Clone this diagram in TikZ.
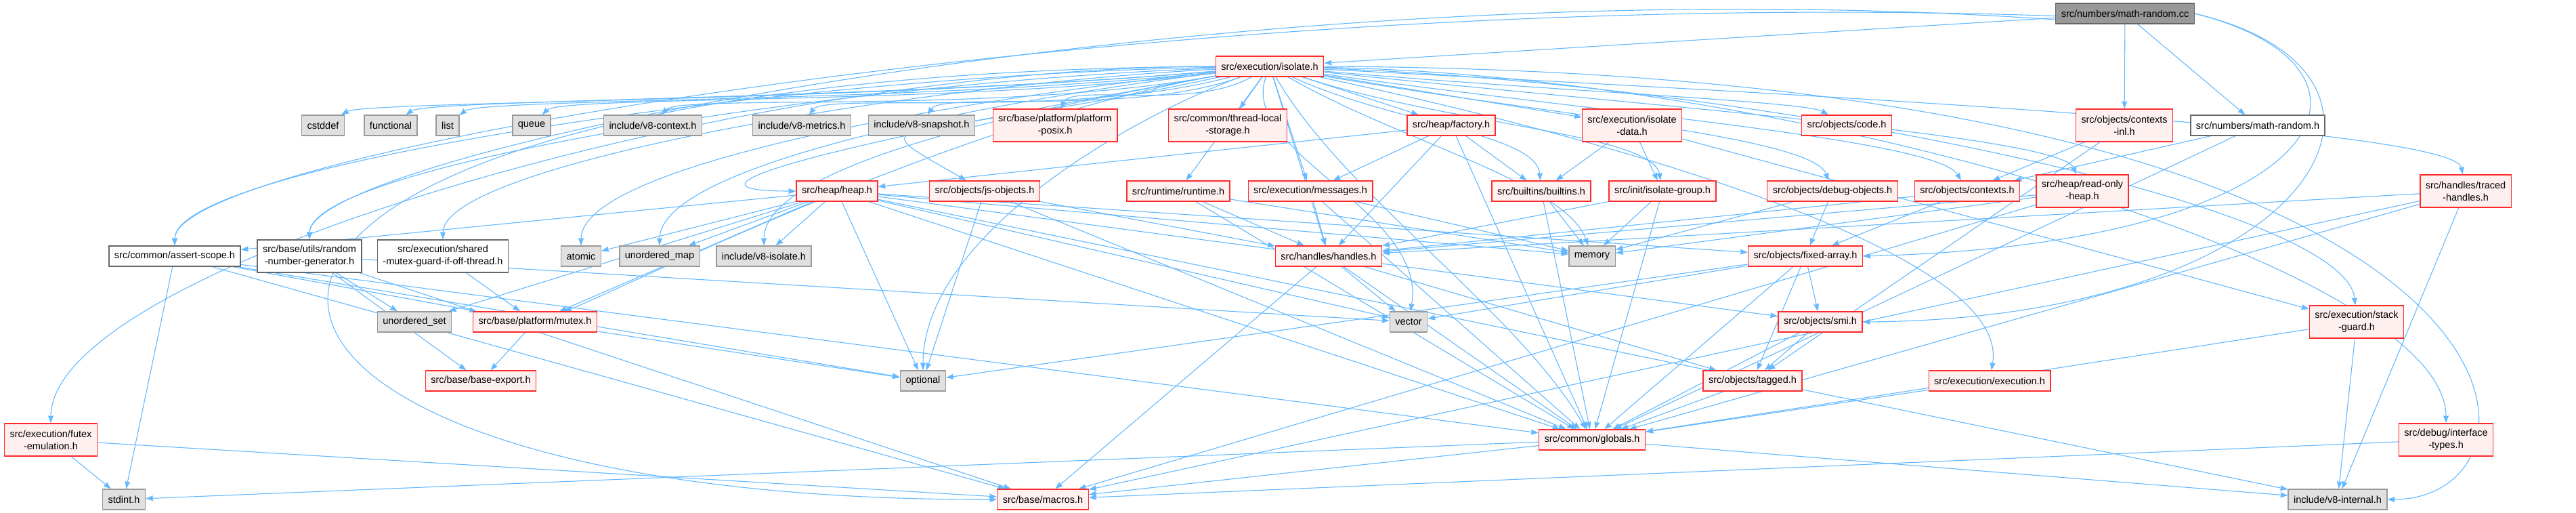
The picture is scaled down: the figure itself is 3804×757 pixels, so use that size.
\documentclass[tikz,border=0pt]{standalone}
\usepackage{fontspec}
\setmainfont{Liberation Sans}
\usetikzlibrary{arrows.meta}
\definecolor{edgeblue}{HTML}{63B8FF}
\definecolor{hdrfill}{HTML}{FFF0F0}
\definecolor{hdrline}{HTML}{FF2A2A}
\definecolor{extfill}{HTML}{E0E0E0}
\definecolor{extline}{HTML}{999999}
\definecolor{rootfill}{HTML}{999999}
\definecolor{darkline}{HTML}{666666}
\pgfdeclarelayer{edges}
\pgfsetlayers{edges,main}

\begin{document}
\begin{tikzpicture}[x=1pt, y=1pt,
    font=\fontsize{14.5}{18}\selectfont,
    box/.style={rectangle, draw, line width=1.4pt, align=center, minimum height=30pt, inner xsep=8pt, inner ysep=4pt},
    hdr/.style={box, draw=hdrline, fill=hdrfill},
    ext/.style={box, draw=extline, fill=extfill},
    plain/.style={box, draw=darkline, fill=white},
    rootfile/.style={box, draw=darkline, fill=rootfill},
    tall/.style={minimum height=48pt},
    arrow/.style={->, >={Stealth[length=11pt, width=8pt, inset=1pt]}, draw=edgeblue, line width=1.1pt}]

    \useasboundingbox (0,0) rectangle (3804,-757);

    % top
    \node[rootfile] (root) at (3138,-20) {src/numbers/math-random.cc};
    \node[hdr] (isolate) at (1875,-98) {src/execution/isolate.h};

    % second row
    \node[ext] (cstddef) at (477,-185) {cstddef};
    \node[ext] (functional) at (577,-185) {functional};
    \node[ext] (list) at (661,-185) {list};
    \node[ext] (queue) at (785,-185) {queue};
    \node[ext] (v8context) at (964,-185) {include/v8-context.h};
    \node[ext] (v8metrics) at (1184,-185) {include/v8-metrics.h};
    \node[ext] (v8snapshot) at (1361,-185) {include/v8-snapshot.h};
    \node[hdr, tall] (posix) at (1558,-185) {src/base/platform/platform\\-posix.h};
    \node[hdr, tall] (tls) at (1813,-185) {src/common/thread-local\\-storage.h};
    \node[hdr] (factory) at (2143,-185) {src/heap/factory.h};
    \node[hdr, tall] (isodata) at (2410,-185) {src/execution/isolate\\-data.h};
    \node[hdr] (code) at (2727,-185) {src/objects/code.h};
    \node[hdr, tall] (ctxinl) at (3137,-185) {src/objects/contexts\\-inl.h};
    \node[plain] (mathrandh) at (3334,-185) {src/numbers/math-random.h};

    % third row
    \node[hdr] (heap) at (1236,-282) {src/heap/heap.h};
    \node[hdr] (jsobj) at (1454,-282) {src/objects/js-objects.h};
    \node[hdr] (runtime) at (1740,-282) {src/runtime/runtime.h};
    \node[hdr] (messages) at (1935,-282) {src/execution/messages.h};
    \node[hdr] (builtins) at (2276,-282) {src/builtins/builtins.h};
    \node[hdr] (isogroup) at (2455,-282) {src/init/isolate-group.h};
    \node[hdr] (debugobj) at (2706,-282) {src/objects/debug-objects.h};
    \node[hdr] (contexts) at (2905,-282) {src/objects/contexts.h};
    \node[hdr, tall] (rheap) at (3075,-282) {src/heap/read-only\\-heap.h};
    \node[hdr, tall] (traced) at (3641,-282) {src/handles/traced\\-handles.h};

    % fourth row
    \node[plain] (assertscope) at (258,-378) {src/common/assert-scope.h};
    \node[plain, tall] (rng) at (457,-378) {src/base/utils/random\\-number-generator.h};
    \node[plain, tall] (mutexguard) at (654,-378) {src/execution/shared\\-mutex-guard-if-off-thread.h};
    \node[ext] (atomic) at (858,-378) {atomic};
    \node[ext] (umap) at (974,-378) {unordered\_map};
    \node[ext] (v8isolate) at (1128,-378) {include/v8-isolate.h};
    \node[hdr] (handles) at (1962,-378) {src/handles/handles.h};
    \node[ext] (memory) at (2351,-378) {memory};
    \node[hdr] (fixedarray) at (2666,-378) {src/objects/fixed-array.h};

    % lower rows
    \node[ext] (uset) at (612,-475) {unordered\_set};
    \node[hdr] (mutex) at (790,-475) {src/base/platform/mutex.h};
    \node[ext] (vector) at (2080,-475) {vector};
    \node[hdr] (smi) at (2688,-475) {src/objects/smi.h};
    \node[hdr, tall] (stackguard) at (3480,-475) {src/execution/stack\\-guard.h};
    \node[hdr] (baseexport) at (710,-562) {src/base/base-export.h};
    \node[ext] (optional) at (1363,-562) {optional};
    \node[hdr] (tagged) at (2588,-562) {src/objects/tagged.h};
    \node[hdr] (execution) at (2938,-562) {src/execution/execution.h};
    \node[hdr, tall] (futex) at (75,-649) {src/execution/futex\\-emulation.h};
    \node[hdr] (globals) at (2351,-649) {src/common/globals.h};
    \node[hdr, tall] (interface) at (3612,-649) {src/debug/interface\\-types.h};
    \node[ext] (stdint) at (183,-737) {stdint.h};
    \node[hdr] (macros) at (1540,-737) {src/base/macros.h};
    \node[ext] (v8internal) at (3452,-737) {include/v8-internal.h};

    \begin{pgfonlayer}{edges}
    % from the source file
    \draw[arrow] (root) -- (isolate);
    \draw[arrow] (root) -- (ctxinl);
    \draw[arrow] (root) -- (mathrandh);
    \draw[arrow] (root.182) .. controls +(178:1300pt) and +(90:140pt) .. (assertscope.90);
    \draw[arrow] (root.185) .. controls +(176:1200pt) and +(90:130pt) .. (rng.90);
    \draw[arrow] (root.east) .. controls (3560,-100) and (3450,-360) .. (fixedarray.east);
    \draw[arrow] (root.east) .. controls (3620,-110) and (3420,-470) .. (smi.east);

    % isolate.h fans out
    \foreach \t/\o/\i/\d/\e in {cstddef/185/30/520/40, functional/185/35/480/40,
        list/186/40/440/40, queue/187/45/390/40, v8context/190/50/330/40,
        v8metrics/195/55/240/40, v8snapshot/200/60/170/40, posix/210/70/100/40,
        assertscope/181/90/620/120, rng/182/90/540/110, mutexguard/183/90/460/110,
        atomic/186/90/380/120, umap/187/90/330/120, v8isolate/190/90/270/120,
        heap/190/180/600/200, jsobj/192/150/500/200, futex/180/90/700/230,
        mutex/190/20/400/80, optional/200/90/170/200, code/-5/150/340/40,
        debugobj/-10/110/330/70, contexts/-8/120/410/70, rheap/-6/110/480/60,
        traced/-3/100/700/70, stackguard/-2/95/640/150, interface/-1/90/700/230,
        execution/-12/80/420/180, memory/-30/110/190/100, builtins/-25/95/160/70,
        isogroup/-18/100/230/70, globals/-60/120/200/200, vector/-110/80/120/150}
        \draw[arrow] (isolate.\o) .. controls +(\o:\d pt) and +(\i:\e pt) .. (\t.\i);
    \foreach \t in {tls, factory, isodata, runtime, messages, handles}
        \draw[arrow] (isolate) -- (\t);
    \draw[arrow] (isolate.west) .. controls (60,-110) and (150,-740) .. (macros.west);
    \draw[arrow] (isolate.east) .. controls (3800,-105) and (3800,-737) .. (v8internal.east);

    % the rest
    \foreach \t in {heap, messages, handles, globals, builtins}
        \draw[arrow] (factory) -- (\t);
    \foreach \t in {builtins, isogroup, stackguard}
        \draw[arrow] (isodata) -- (\t);
    \foreach \t in {handles, optional, globals}
        \draw[arrow] (jsobj) -- (\t);
    \foreach \t in {handles, globals, memory}
        \draw[arrow] (runtime) -- (\t);
    \foreach \t in {handles, memory, globals}
        \draw[arrow] (messages) -- (\t);
    \foreach \t in {globals, memory}
        \draw[arrow] (builtins) -- (\t);
    \foreach \t in {memory, globals, handles}
        \draw[arrow] (isogroup) -- (\t);
    \foreach \t in {fixedarray, memory}
        \draw[arrow] (debugobj) -- (\t);
    \foreach \t in {fixedarray, handles}
        \draw[arrow] (contexts) -- (\t);
    \foreach \t in {handles, memory, macros}
        \draw[arrow] (rheap) -- (\t);
    \foreach \t in {handles, globals, macros, v8internal}
        \draw[arrow] (traced) -- (\t);
    \foreach \t in {contexts, tagged}
        \draw[arrow] (ctxinl) -- (\t);
    \foreach \t in {contexts, globals}
        \draw[arrow] (mathrandh) -- (\t);
    \foreach \t in {assertscope, atomic, umap, v8isolate, uset, mutex, optional, globals,
        vector, memory, fixedarray, smi, v8internal}
        \draw[arrow] (heap) -- (\t);
    \foreach \t in {stdint, mutex, optional, globals, macros}
        \draw[arrow] (assertscope) -- (\t);
    \foreach \t in {uset, baseexport, macros, vector}
        \draw[arrow] (rng) -- (\t);
    \draw[arrow] (mutexguard) -- (mutex);
    \foreach \t in {baseexport, optional}
        \draw[arrow] (mutex) -- (\t);
    \foreach \t in {vector, globals, macros, tagged}
        \draw[arrow] (handles) -- (\t);
    \foreach \t in {smi, tagged, globals, vector, optional}
        \draw[arrow] (fixedarray) -- (\t);
    \foreach \t in {tagged, globals}
        \draw[arrow] (smi) -- (\t);
    \draw[arrow] (tagged) -- (globals);
    \draw[arrow] (execution) -- (globals);
    \foreach \t in {globals, v8internal}
        \draw[arrow] (stackguard) -- (\t);
    \draw[arrow] (interface) -- (macros);
    \foreach \t in {stdint, macros, v8internal}
        \draw[arrow] (globals) -- (\t);
    \foreach \t in {stdint, macros}
        \draw[arrow] (futex) -- (\t);
    \end{pgfonlayer}
\end{tikzpicture}
\end{document}
